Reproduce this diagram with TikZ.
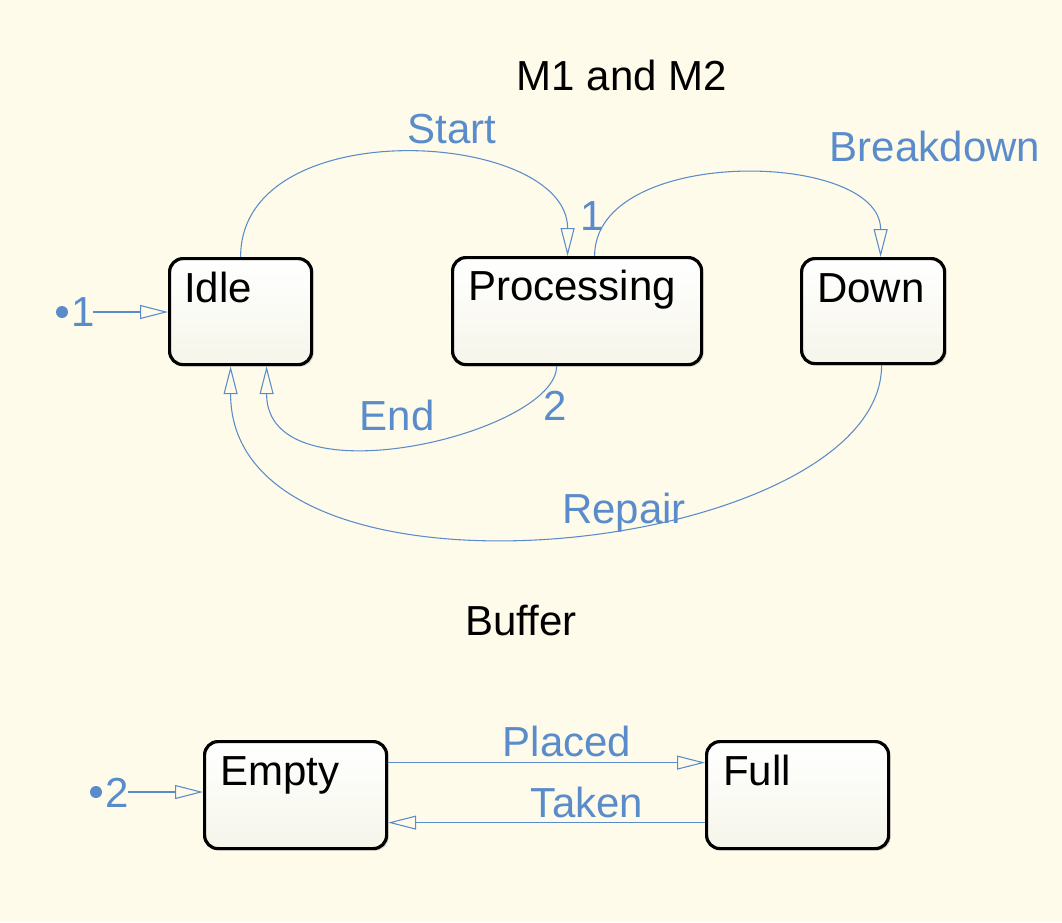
\documentclass[tikz,border=0pt]{standalone}
\usepackage{fontspec}
\setmainfont{Liberation Sans}
\usetikzlibrary{arrows.meta,shadows,calc}
\definecolor{bg}{HTML}{FEFBEA}
\definecolor{lnblue}{HTML}{5A8CCB}
\definecolor{boxbot}{HTML}{F6F5EA}
\begin{document}
\begin{tikzpicture}[x=0.75pt,y=-0.75pt,
  every node/.style={font=\fontsize{31.5}{36}\selectfont, inner sep=0pt},
  statebox/.style={draw=black, line width=2.4pt, rounded corners=10pt,
    top color=white, bottom color=boxbot, anchor=north west,
    drop shadow={shadow xshift=1.5pt, shadow yshift=-1.5pt, opacity=0.25, fill=black!60}},
  statename/.style={anchor=base west, text=black},
  blab/.style={anchor=base, text=lnblue},
  title/.style={anchor=base, text=black},
  trans/.style={draw=lnblue, line width=0.8pt, -{Triangle[open, length=21pt, width=10.5pt, line width=0.8pt]}},
  initdot/.style={circle, fill=lnblue, minimum size=9pt, inner sep=0pt, font=\tiny}
]
\fill[bg] (0,0) rectangle (1062,922);
\useasboundingbox (0,0) rectangle (1062,922);

% titles
\node[title] (t1) at (622,90) {M1 and M2};
\node[title] (t2) at (521,635) {Buffer};

% states
\node[statebox, minimum width=106.5pt, minimum height=79.5pt] (idle) at (168,257) {};
\node[statebox, minimum width=186.75pt, minimum height=80.25pt] (proc) at (451,256) {};
\node[statebox, minimum width=107.25pt, minimum height=78.75pt] (down) at (800,257) {};
\node[statebox, minimum width=136.5pt, minimum height=80.25pt] (empty) at (203,740) {};
\node[statebox, minimum width=136.5pt, minimum height=80.25pt] (full) at (705,740) {};

\node[statename] (idlet) at ($(idle.north west)+(16,45)$) {Idle};
\node[statename] (proct) at ($(proc.north west)+(17,44)$) {Processing};
\node[statename] (downt) at ($(down.north west)+(17,45)$) {Down};
\node[statename] (emptyt) at ($(empty.north west)+(17,45)$) {Empty};
\node[statename] (fullt) at ($(full.north west)+(18,45)$) {Full};

% initial transitions
\node[initdot] (d1) at (62,312) {};
\node[blab] (n1) at (83,326) {1};
\coordinate (s1) at (93,312);
\draw[trans] (s1) -- (idle.west |- s1);
\node[initdot] (d2) at (96,792) {};
\node[blab] (n2) at (117,807) {2};
\coordinate (s2) at (128,792);
\draw[trans] (s2) -- (empty.west |- s2);

% coordinates on boxes
\coordinate (idleTop) at (idle.north);
\coordinate (procIn) at ($(proc.north)+(-9.5,0)$);
\coordinate (procOut) at ($(proc.north)+(17.5,0)$);
\coordinate (downIn) at ($(down.north)+(7.5,0)$);
\coordinate (procBot) at ($(proc.south)+(-20.5,0)$);
\coordinate (idleIn1) at ($(idle.south)+(26,0)$);
\coordinate (downBot) at ($(down.south)+(8.5,0)$);
\coordinate (idleIn2) at ($(idle.south)+(-10,0)$);

% transitions
\draw[trans] (idleTop) .. controls ($(idleTop)+(0,-147)$) and ($(procIn)+(0,-126)$) .. (procIn);
\draw[trans] (procOut) .. controls ($(procOut)+(0,-111)$) and ($(downIn)+(0,-107)$) .. (downIn);
\draw[trans] (procBot) .. controls ($(procBot)+(0,67)$) and ($(idleIn1)+(0,137)$) .. (idleIn1);
\draw[trans] (downBot) .. controls ($(downBot)+(0,190)$) and ($(idleIn2)+(0,262)$) .. (idleIn2);
\draw[trans] ($(empty.east)+(0,-32.5)$) -- ($(full.west)+(0,-32.5)$);
\draw[trans] ($(full.west)+(0,27.5)$) -- ($(empty.east)+(0,27.5)$);

% labels
\node[blab] (lstart) at (452,143) {Start};
\node[blab] (lbreak) at (935,161) {Breakdown};
\node[blab] (lp1) at (592,230) {1};
\node[blab] (lend) at (397,430) {End};
\node[blab] (lp2) at (555,420) {2};
\node[blab] (lrep) at (624,523) {Repair};
\node[blab] (lplaced) at (567,756) {Placed};
\node[blab] (ltaken) at (587,817) {Taken};
\end{tikzpicture}
\end{document}
